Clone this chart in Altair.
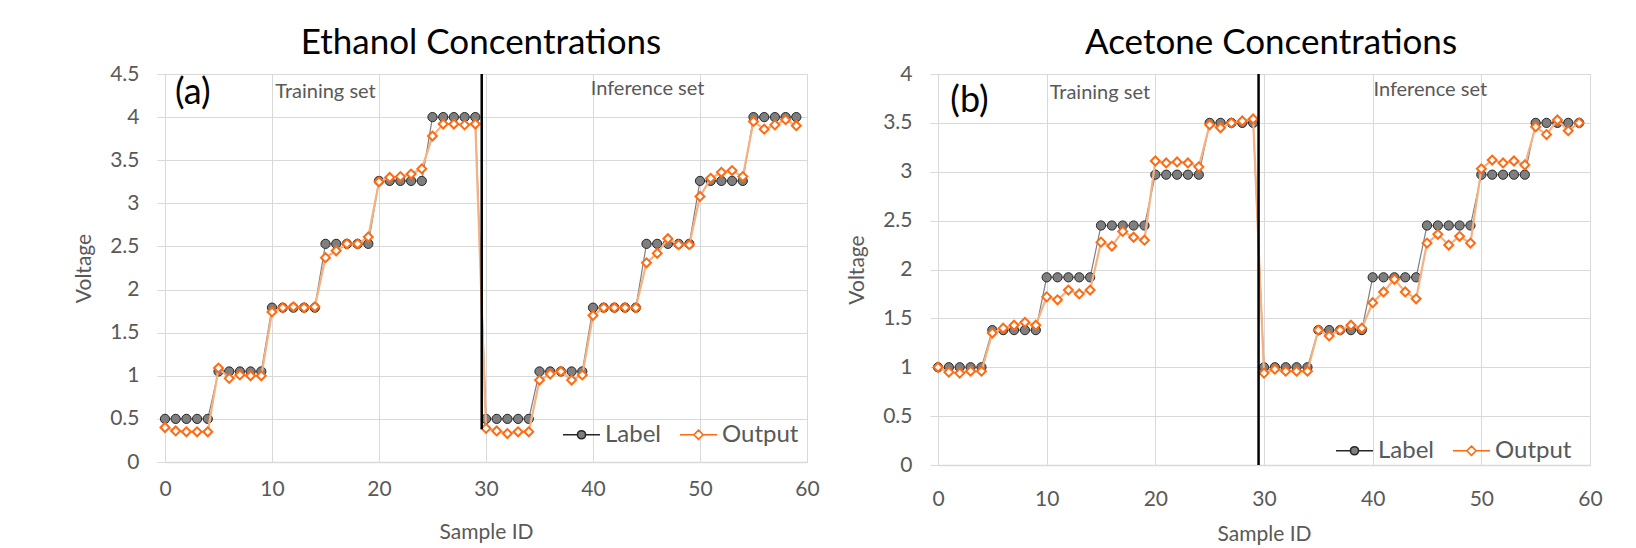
import altair as alt
import pandas as pd

samples = list(range(60))

eth_label = [0.5, 0.5, 0.5, 0.5, 0.5, 1.05, 1.05, 1.05, 1.05, 1.05,
             1.79, 1.79, 1.79, 1.79, 1.79, 2.53, 2.53, 2.53, 2.53, 2.53,
             3.26, 3.26, 3.26, 3.26, 3.26, 4.0, 4.0, 4.0, 4.0, 4.0,
             0.5, 0.5, 0.5, 0.5, 0.5, 1.05, 1.05, 1.05, 1.05, 1.05,
             1.79, 1.79, 1.79, 1.79, 1.79, 2.53, 2.53, 2.53, 2.53, 2.53,
             3.26, 3.26, 3.26, 3.26, 3.26, 4.0, 4.0, 4.0, 4.0, 4.0]
eth_output = [0.40, 0.36, 0.35, 0.35, 0.35, 1.09, 0.97, 1.01, 1.00, 1.00,
              1.74, 1.79, 1.80, 1.79, 1.80, 2.37, 2.45, 2.53, 2.53, 2.61,
              3.25, 3.30, 3.31, 3.34, 3.40, 3.78, 3.92, 3.92, 3.91, 3.92,
              0.39, 0.36, 0.33, 0.35, 0.35, 0.95, 1.02, 1.05, 0.95, 1.01,
              1.70, 1.79, 1.79, 1.79, 1.79, 2.31, 2.42, 2.59, 2.52, 2.52,
              3.08, 3.29, 3.36, 3.38, 3.31, 3.95, 3.86, 3.91, 3.97, 3.90]
ace_label = [1.0, 1.0, 1.0, 1.0, 1.0, 1.38, 1.38, 1.38, 1.38, 1.38,
             1.92, 1.92, 1.92, 1.92, 1.92, 2.45, 2.45, 2.45, 2.45, 2.45,
             2.97, 2.97, 2.97, 2.97, 2.97, 3.5, 3.5, 3.5, 3.5, 3.5,
             1.0, 1.0, 1.0, 1.0, 1.0, 1.38, 1.38, 1.38, 1.38, 1.38,
             1.92, 1.92, 1.92, 1.92, 1.92, 2.45, 2.45, 2.45, 2.45, 2.45,
             2.97, 2.97, 2.97, 2.97, 2.97, 3.5, 3.5, 3.5, 3.5, 3.5]
ace_output = [1.00, 0.95, 0.94, 0.96, 0.96, 1.35, 1.40, 1.43, 1.46, 1.43,
              1.72, 1.69, 1.79, 1.75, 1.79, 2.28, 2.24, 2.39, 2.33, 2.30,
              3.11, 3.09, 3.10, 3.09, 3.05, 3.48, 3.45, 3.50, 3.52, 3.54,
              0.94, 0.98, 0.96, 0.96, 0.96, 1.38, 1.32, 1.38, 1.43, 1.40,
              1.66, 1.77, 1.90, 1.77, 1.70, 2.27, 2.36, 2.25, 2.34, 2.27,
              3.03, 3.12, 3.09, 3.11, 3.07, 3.46, 3.38, 3.53, 3.42, 3.50]

x_ticks = [0, 10, 20, 30, 40, 50, 60]
eth_y_ticks = [0, 0.5, 1, 1.5, 2, 2.5, 3, 3.5, 4, 4.5]
ace_y_ticks = [0, 0.5, 1, 1.5, 2, 2.5, 3, 3.5, 4]

# divider between training and inference sets
eth_divider = {"x": [29.6], "y0": [0.38], "y1": [4.5]}
ace_divider = {"x": [29.5], "y0": [0.0], "y1": [4.0]}

eth_notes = {"text": ["(a)", "Training set", "Inference set"],
             "x": [2.6, 15.0, 45.1], "y": [4.28, 4.29, 4.33],
             "fs": [36, 20, 20], "col": ["#000000", "#595959", "#595959"]}
ace_notes = {"text": ["(b)", "Training set", "Inference set"],
             "x": [2.9, 14.9, 45.3], "y": [3.72, 3.81, 3.84],
             "fs": [36, 20, 20], "col": ["#000000", "#595959", "#595959"]}

FONT = "Lato"
GRID = "#d9d9d9"
TXT = "#595959"
SERIES = ["Label", "Output"]

LABEL_SYM = "M-1,0L-0.22,0M0.22,0L1,0M0.22,0A0.22,0.22,0,1,1,-0.22,0A0.22,0.22,0,1,1,0.22,0Z"
OUT_SYM = "M-1,0L-0.25,0M0.25,0L1,0M0,-0.25L0.25,0L0,0.25L-0.25,0Z"


def panel(title, label, output, ymax, yticks, divider, notes, w, h,
          legend_x, legend_y, xlab_pad, xtitle_pad, title_dx):
    df = pd.DataFrame({
        "sample": samples + samples,
        "value": label + output,
        "series": ["Label"] * len(label) + ["Output"] * len(output),
    })
    xenc = alt.X("sample:Q", scale=alt.Scale(domain=[0, 60], nice=False),
                 axis=alt.Axis(values=x_ticks, title="Sample ID", grid=True,
                               gridColor=GRID, ticks=False, domainColor=GRID,
                               domainWidth=1.5,
                               labelFont=FONT, labelFontSize=21, labelColor=TXT,
                               titleFont=FONT, titleFontSize=21, titleColor=TXT,
                               titleFontWeight="normal", labelPadding=xlab_pad,
                               titlePadding=xtitle_pad, labelFlush=False))
    yenc = alt.Y("value:Q", scale=alt.Scale(domain=[0, ymax], nice=False),
                 axis=alt.Axis(values=yticks, format="~g", title="Voltage",
                               grid=True, gridColor=GRID, domain=False,
                               tickColor=GRID, tickSize=8,
                               labelFont=FONT, labelFontSize=21, labelColor=TXT,
                               titleFont=FONT, titleFontSize=21, titleColor=TXT,
                               titleFontWeight="normal", labelPadding=18,
                               titlePadding=15, labelFlush=False))
    legend = alt.Legend(
        title=None, orient="none", legendX=legend_x, legendY=legend_y,
        direction="horizontal", labelFont=FONT, labelFontSize=24,
        labelColor=TXT, symbolSize=1369, columnPadding=14, labelOffset=4,
        symbolStrokeWidth=1.6, symbolOpacity=1,
    )

    base = alt.Chart(df).encode(x=xenc, y=yenc)
    lab = base.transform_filter(alt.datum.series == "Label")
    out = base.transform_filter(alt.datum.series == "Output")

    lab_line = lab.mark_line(color="#7f7f7f", strokeWidth=1.2)
    lab_pts = lab.mark_point(shape="circle", filled=True, size=85, strokeWidth=1,
                             fill="#7f7f7f", stroke="#262626", opacity=1)
    out_line = out.mark_line(color="#f4b183", strokeWidth=2.2)
    out_pts = out.mark_point(shape="diamond", filled=True, size=80, strokeWidth=2,
                             fill="#ffffff", stroke="#ff6a13", opacity=1)

    # legend-only layer (no rows drawn; entries come from the explicit domain)
    leg = alt.Chart(df).transform_filter("false").mark_point(filled=True).encode(
        x=alt.X("sample:Q"), y=alt.Y("value:Q"),
        shape=alt.Shape("series:N", scale=alt.Scale(domain=SERIES, range=[LABEL_SYM, OUT_SYM]), legend=legend),
        fill=alt.Fill("series:N", scale=alt.Scale(domain=SERIES, range=["#7f7f7f", "#ffffff"]), legend=legend),
        stroke=alt.Stroke("series:N", scale=alt.Scale(domain=SERIES, range=["#262626", "#ff6a13"]), legend=legend),
    )

    div = alt.Chart(pd.DataFrame(divider)).mark_rule(color="#000000", strokeWidth=2.5).encode(
        x="x:Q", y="y0:Q", y2="y1:Q")

    txt = alt.Chart(pd.DataFrame(notes)).mark_text(font=FONT, baseline="middle", align="center").encode(
        x="x:Q", y="y:Q", text="text:N",
        size=alt.Size("fs:Q", scale=None, legend=None),
        color=alt.Color("col:N", scale=None, legend=None))

    return alt.layer(lab_line, lab_pts, out_line, out_pts, div, txt, leg).properties(
        width=w, height=h,
        title=alt.TitleParams(title, font=FONT, fontSize=35, fontWeight="normal",
                              color="#000000", anchor="middle", offset=-33,
                              baseline="bottom", dx=title_dx),
    )


left = panel("Ethanol Concentrations", eth_label, eth_output, 4.5, eth_y_ticks,
             eth_divider, eth_notes, 642, 388, 397, 341, 16, 22, -5)
right = panel("Acetone Concentrations", ace_label, ace_output, 4.0, ace_y_ticks,
              ace_divider, ace_notes, 652, 391, 397, 357, 23, 14, 7)

chart = alt.hconcat(left, right, spacing=26).resolve_scale(
    shape="independent", fill="independent", stroke="independent"
).resolve_legend(
    shape="independent", fill="independent", stroke="independent"
).properties(
    padding={"left": 65, "top": 17, "right": 0, "bottom": 0}
).configure_view(strokeWidth=0).configure(font=FONT)

chart.save("out.html", embed_options={"renderer": "svg", "actions": False})
